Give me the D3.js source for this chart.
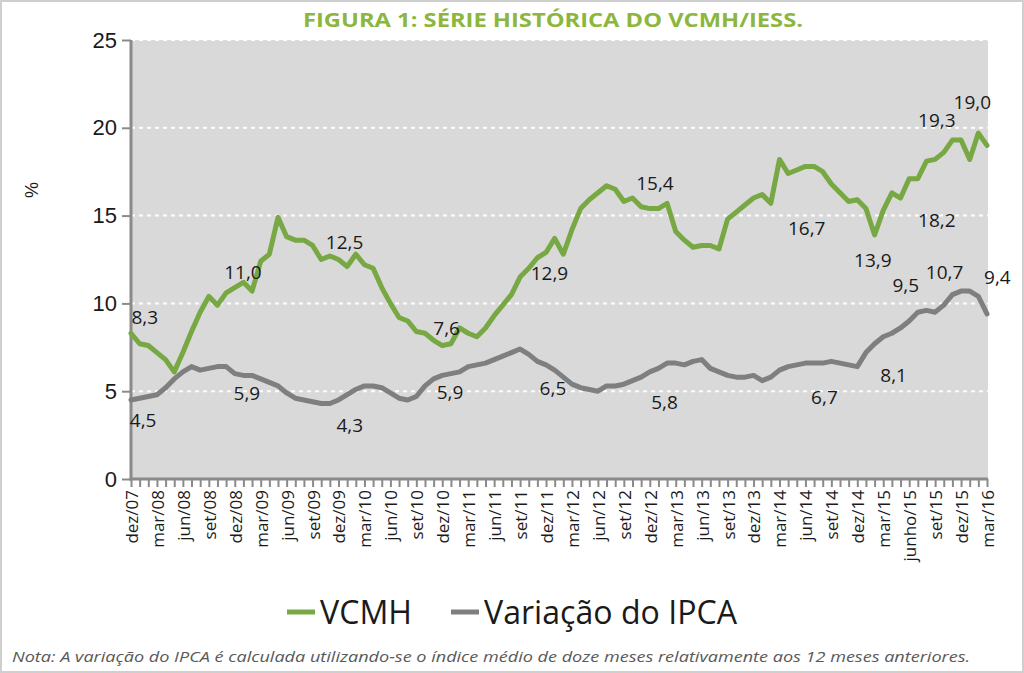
<!DOCTYPE html>
<html>
<head>
<meta charset="utf-8">
<script src="https://cdn.jsdelivr.net/npm/d3@7"></script>
<style>
  html, body { margin: 0; padding: 0; background: #ffffff; }
  svg { display: block; }
</style>
</head>
<body>
<svg id="chart" width="1024" height="673"></svg>
<script>
// ---------- DATA ----------
const monthNames = ["jan","fev","mar","abr","mai","jun","jul","ago","set","out","nov","dez"];
// categories: dez/07 .. mar/16 (100 months)
const categories = [];
for (let k = 0; k < 100; k++) {
  const m = (11 + k) % 12;
  const y = 7 + Math.floor((11 + k) / 12);
  categories.push(monthNames[m] + "/" + String(y).padStart(2, "0"));
}

const vcmh = [
  8.3, 7.7, 7.6, 7.2, 6.8, 6.1, 7.2, 8.4, 9.5, 10.4,
  9.9, 10.6, 10.9, 11.2, 10.7, 12.4, 12.8, 14.9, 13.8, 13.6,
  13.6, 13.3, 12.5, 12.7, 12.5, 12.1, 12.8, 12.2, 12.0, 10.9,
  10.0, 9.2, 9.0, 8.4, 8.3, 7.9, 7.6, 7.7, 8.6, 8.3,
  8.1, 8.6, 9.3, 9.9, 10.5, 11.5, 12.0, 12.6, 12.9, 13.7,
  12.8, 14.2, 15.4, 15.9, 16.3, 16.7, 16.5, 15.8, 16.0, 15.5,
  15.4, 15.4, 15.7, 14.1, 13.6, 13.2, 13.3, 13.3, 13.1, 14.8,
  15.2, 15.6, 16.0, 16.2, 15.7, 18.2, 17.4, 17.6, 17.8, 17.8,
  17.5, 16.8, 16.3, 15.8, 15.9, 15.4, 13.9, 15.3, 16.3, 16.0,
  17.1, 17.1, 18.1, 18.2, 18.6, 19.3, 19.3, 18.2, 19.7, 19.0
];

const ipca = [
  4.5, 4.6, 4.7, 4.8, 5.2, 5.7, 6.1, 6.4, 6.2, 6.3,
  6.4, 6.4, 6.0, 5.9, 5.9, 5.7, 5.5, 5.3, 4.9, 4.6,
  4.5, 4.4, 4.3, 4.3, 4.5, 4.8, 5.1, 5.3, 5.3, 5.2,
  4.9, 4.6, 4.5, 4.7, 5.3, 5.7, 5.9, 6.0, 6.1, 6.4,
  6.5, 6.6, 6.8, 7.0, 7.2, 7.4, 7.1, 6.7, 6.5, 6.2,
  5.8, 5.4, 5.2, 5.1, 5.0, 5.3, 5.3, 5.4, 5.6, 5.8,
  6.1, 6.3, 6.6, 6.6, 6.5, 6.7, 6.8, 6.3, 6.1, 5.9,
  5.8, 5.8, 5.9, 5.6, 5.8, 6.2, 6.4, 6.5, 6.6, 6.6,
  6.6, 6.7, 6.6, 6.5, 6.4, 7.2, 7.7, 8.1, 8.3, 8.6,
  9.0, 9.5, 9.6, 9.5, 9.9, 10.5, 10.7, 10.7, 10.4, 9.4
];

const xTickLabels = [
  "dez/07","mar/08","jun/08","set/08","dez/08","mar/09","jun/09","set/09","dez/09",
  "mar/10","jun/10","set/10","dez/10","mar/11","jun/11","set/11","dez/11",
  "mar/12","jun/12","set/12","dez/12","mar/13","jun/13","set/13","dez/13",
  "mar/14","jun/14","set/14","dez/14","mar/15","junho/15","set/15","dez/15","mar/16"
];
const yTicks = [0, 5, 10, 15, 20, 25];

// data labels: text, position in data space (month index, value)
const labelText = ["8,3","4,5","11,0","5,9","12,5","4,3","7,6","5,9","12,9","6,5","15,4","5,8",
                   "16,7","6,7","13,9","8,1","19,3","18,2","10,7","9,5","19,0","9,4"];
const labelIdx  = [1.6, 1.4, 12.95, 13.4, 24.7, 25.3, 36.5, 36.9, 48.4, 48.8, 60.6, 61.7,
                   78.15, 80.2, 85.8, 88.2, 93.2, 93.2, 94.1, 89.6, 97.3, 100.2];
const labelVal  = [9.23, 3.36, 11.79, 4.90, 13.50, 3.08, 8.60, 4.95, 11.73, 5.18, 16.86, 4.38,
                   14.29, 4.67, 12.47, 5.92, 20.44, 14.75, 11.79, 11.05, 21.47, 11.50];

const seriesNames = ["VCMH", "Variação do IPCA"];
const seriesColors = ["#78a843", "#7f7f7f"];

// ---------- LAYOUT ----------
const W = 1024, H = 673;
const plot = { left: 131, right: 988, top: 40, bottom: 479 };

const svg = d3.select("#chart");

svg.append("rect").attr("x", 1).attr("y", 1).attr("width", W - 2).attr("height", H - 2)
  .attr("fill", "#ffffff").attr("stroke", "#cfcfcf").attr("stroke-width", 2);

const x = d3.scaleLinear().domain([0, categories.length - 1]).range([plot.left, plot.right - 1]);
const y = d3.scaleLinear().domain([0, 25]).range([plot.bottom, plot.top]);

// plot background
svg.append("rect")
  .attr("x", plot.left).attr("y", plot.top)
  .attr("width", plot.right - plot.left).attr("height", plot.bottom - plot.top)
  .attr("fill", "#d9d9d9");

// gridlines
svg.append("g").selectAll("line")
  .data(yTicks.filter(d => d > 0))
  .join("line")
  .attr("x1", plot.left).attr("x2", plot.right)
  .attr("y1", d => y(d)).attr("y2", d => y(d))
  .attr("stroke", "#ffffff").attr("stroke-width", 2)
  .attr("stroke-dasharray", "4,4");

// title
svg.append("text")
  .attr("x", 553).attr("y", 27)
  .attr("text-anchor", "middle")
  .attr("font-family", "'Open Sans', sans-serif")
  .attr("font-weight", "bold")
  .attr("font-size", 19)
  .attr("fill", "#8cb63c")
  .attr("textLength", 500).attr("lengthAdjust", "spacingAndGlyphs")
  .text("FIGURA 1: SÉRIE HISTÓRICA DO VCMH/IESS.");

// Y axis
const yAxis = d3.axisLeft(y).tickValues(yTicks).tickSize(9).tickPadding(5)
  .tickFormat(d3.format("d"));
const gy = svg.append("g").attr("transform", `translate(${plot.left},0)`).call(yAxis);
gy.select(".domain").remove();
gy.selectAll(".tick line").attr("stroke", "#8a8a8a").attr("stroke-width", 2);
gy.selectAll(".tick text")
  .attr("font-family", "'Liberation Sans', Arial, sans-serif")
  .attr("font-size", 22).attr("fill", "#1a1a1a");
svg.append("line")
  .attr("x1", plot.left).attr("x2", plot.left)
  .attr("y1", plot.top).attr("y2", plot.bottom + 1.5)
  .attr("stroke", "#8a8a8a").attr("stroke-width", 3);

// Y title
svg.append("text")
  .attr("transform", `translate(38,190) rotate(-90)`)
  .attr("text-anchor", "middle")
  .attr("font-family", "'Liberation Sans', Arial, sans-serif")
  .attr("font-size", 18).attr("fill", "#1a1a1a")
  .text("%");

// X axis: tick per month
const xAxis = d3.axisBottom(x).tickValues(d3.range(categories.length)).tickSize(8).tickFormat("");
const gx = svg.append("g").attr("transform", `translate(0,${plot.bottom})`).call(xAxis);
gx.select(".domain").remove();
gx.selectAll(".tick line").attr("stroke", "#8a8a8a").attr("stroke-width", 2);
svg.append("line")
  .attr("x1", plot.left - 1.5).attr("x2", plot.right)
  .attr("y1", plot.bottom).attr("y2", plot.bottom)
  .attr("stroke", "#8a8a8a").attr("stroke-width", 3);

// X tick labels (every 3 months)
svg.append("g").selectAll("text")
  .data(xTickLabels)
  .join("text")
  .attr("transform", (d, i) => `translate(${x(i * 3) + 1},${plot.bottom + 11}) rotate(-90)`)
  .attr("text-anchor", "end")
  .attr("dy", "0.35em")
  .attr("font-family", "'Open Sans', sans-serif")
  .attr("font-size", 17).attr("fill", "#1a1a1a")
  .text(d => d);

// lines
const line = d3.line().x((d, i) => x(i)).y(d => y(d)).curve(d3.curveLinear);
[vcmh, ipca].forEach((s, k) => {
  svg.append("path")
    .datum(s)
    .attr("d", line)
    .attr("fill", "none")
    .attr("stroke", seriesColors[k])
    .attr("stroke-width", 5)
    .attr("stroke-linejoin", "round")
    .attr("stroke-linecap", "round");
});

// data labels
svg.append("g").selectAll("text")
  .data(labelText)
  .join("text")
  .attr("x", (d, i) => x(labelIdx[i]))
  .attr("y", (d, i) => y(labelVal[i]))
  .attr("dy", "0.35em")
  .attr("text-anchor", "middle")
  .attr("font-family", "'Open Sans', sans-serif")
  .attr("font-size", 19).attr("fill", "#1a1a1a")
  .text(d => d);

// legend
const legendX = [287, 451];
const legendTextW = [92, 253];
const lg = svg.append("g");
seriesNames.forEach((name, k) => {
  lg.append("line")
    .attr("x1", legendX[k]).attr("x2", legendX[k] + 28)
    .attr("y1", 612).attr("y2", 612)
    .attr("stroke", seriesColors[k]).attr("stroke-width", 5);
  lg.append("text")
    .attr("x", legendX[k] + 33).attr("y", 624)
    .attr("font-family", "'Open Sans', sans-serif")
    .attr("font-size", 32).attr("fill", "#1a1a1a")
    .attr("textLength", legendTextW[k]).attr("lengthAdjust", "spacingAndGlyphs")
    .text(name);
});

// footnote
svg.append("text")
  .attr("x", 12).attr("y", 662)
  .attr("font-family", "'Open Sans', sans-serif")
  .attr("font-style", "italic")
  .attr("font-size", 15).attr("fill", "#595959")
  .attr("textLength", 958).attr("lengthAdjust", "spacingAndGlyphs")
  .text("Nota: A variação do IPCA é calculada utilizando-se o índice médio de doze meses relativamente aos 12 meses anteriores.");
</script>
</body>
</html>
